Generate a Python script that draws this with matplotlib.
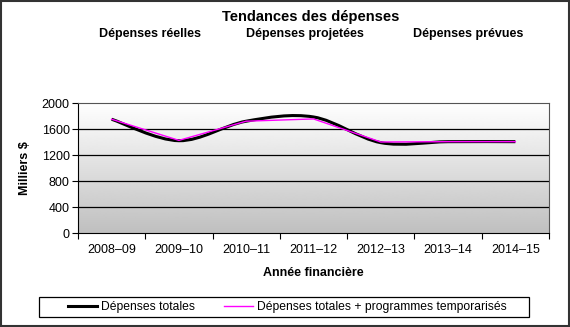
import numpy as np
import matplotlib
matplotlib.use("Agg")
import matplotlib.pyplot as plt
from matplotlib.path import Path
from matplotlib.patches import PathPatch, Rectangle
from matplotlib.lines import Line2D

plt.rcParams['font.family'] = ['Liberation Sans', 'DejaVu Sans']

years = ["2008–09", "2009–10", "2010–11", "2011–12", "2012–13", "2013–14", "2014–15"]
total = [1750, 1420, 1720, 1785, 1390, 1405, 1405]
total_temp = [1750, 1425, 1720, 1755, 1400, 1405, 1405]
yticks = [0, 400, 800, 1200, 1600, 2000]
title = "Tendances des dépenses"
periods = ["Dépenses réelles", "Dépenses projetées", "Dépenses prévues"]
ylabel = "Milliers $"
xlabel = "Année financière"
labels = ["Dépenses totales", "Dépenses totales + programmes temporarisés"]

def smooth_path(xs, ys, t=1/6):
    pts = np.column_stack([xs, ys]).astype(float)
    verts = [pts[0]]
    codes = [Path.MOVETO]
    n = len(pts)
    for i in range(n - 1):
        p0 = pts[i - 1] if i > 0 else pts[i]
        p1 = pts[i]
        p2 = pts[i + 1]
        p3 = pts[i + 2] if i + 2 < n else pts[i + 1]
        c1 = p1 + (p2 - p0) * t
        c2 = p2 - (p3 - p1) * t
        verts += [c1, c2, p2]
        codes += [Path.CURVE4] * 3
    return Path(verts, codes)

fig = plt.figure(figsize=(5.7, 3.27), dpi=100)
ax = fig.add_axes([78/570, 1 - 233/327, (549-78)/570, (233-103)/327])

n = len(years)
x = np.arange(n)

grad = np.linspace(1, 0.75, 256).reshape(-1, 1)
ax.imshow(grad, cmap='gray', vmin=0, vmax=1, extent=[-0.5, n - 0.5, 0, 2000],
          aspect='auto', zorder=0, origin='upper')
ax.set_xlim(-0.5, n - 0.5)
ax.set_ylim(0, 2000)

for yv in yticks[1:-1]:
    ax.axhline(yv, color='black', lw=0.9, zorder=1)

ax.add_patch(PathPatch(smooth_path(x, total), fill=False, edgecolor='black', lw=2.2, zorder=3))
ax.plot(x, total_temp, color='#ff00ff', lw=1.0, zorder=4)

ax.set_yticks(yticks)
ax.set_yticklabels([str(v) for v in yticks], fontsize=9)
ax.set_xticks(x)
ax.set_xticklabels(years, fontsize=9)
ax.set_xticks(np.arange(-0.5, n, 1), minor=True)
ax.tick_params(axis='x', which='major', length=0, pad=8)
ax.tick_params(axis='x', which='minor', length=4, direction='out', width=0.8)
ax.tick_params(axis='y', length=4, direction='out', width=0.8, pad=2)
for s in ax.spines.values():
    s.set_linewidth(0.8)
    s.set_color('#555555')
ax.spines['left'].set_color('black')
ax.spines['bottom'].set_color('black')

ax.set_ylabel(ylabel, fontsize=9, fontweight='bold', labelpad=8)
ax.set_xlabel(xlabel, fontsize=9, fontweight='bold', labelpad=8)

fig.text(311/570, 1 - 17/327, title, ha='center', va='center', fontsize=10.5, fontweight='bold')
for px, txt in zip([150, 305, 468], periods):
    fig.text(px/570, 1 - 34/327, txt, ha='center', va='center', fontsize=9, fontweight='bold')

fig.add_artist(Rectangle((39/570, 1 - 317/327), 490/570, 20/327, transform=fig.transFigure,
                         fill=False, edgecolor='black', lw=0.9))
handles = [Line2D([], [], color='black', lw=2.2), Line2D([], [], color='#ff00ff', lw=1.0)]
leg = fig.legend(handles, labels, loc='center', bbox_to_anchor=(287/570, 1 - 307/327),
                 ncol=2, fontsize=8.75, frameon=False,
                 handlelength=2.4, handletextpad=0.3, columnspacing=2.4, borderpad=0.2,
                 borderaxespad=0)

fig.add_artist(Rectangle((0.002, 0.003), 0.996, 0.994, transform=fig.transFigure,
                         fill=False, edgecolor='#333333', lw=1.5))

fig.savefig("out.png", dpi=100)
